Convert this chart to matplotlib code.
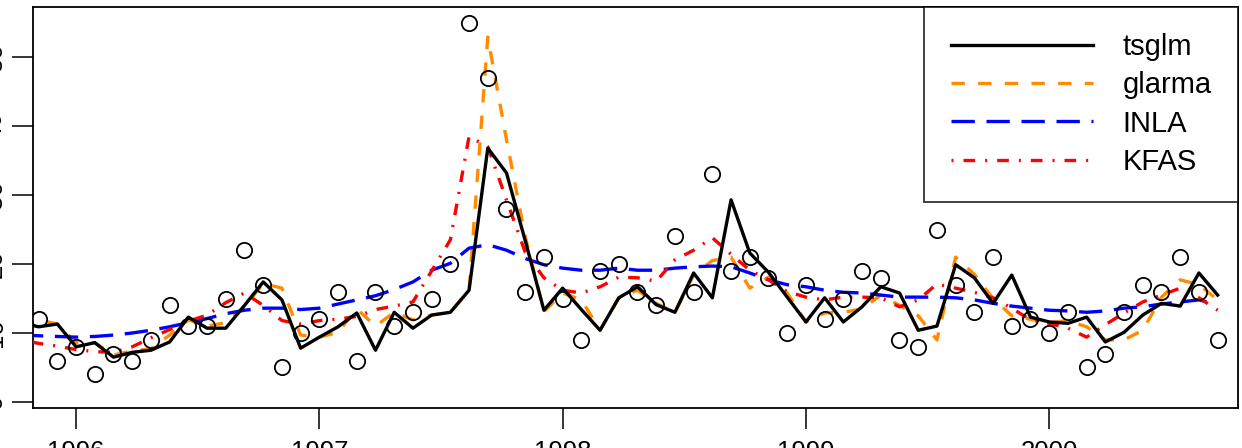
import numpy as np
import matplotlib
matplotlib.use("Agg")
import matplotlib.pyplot as plt

plt.rcParams["font.family"] = ["Liberation Sans", "DejaVu Sans"]

# 4-weekly counts (13 per year), first value at 1995 + 10/13
start = 1995 + 10 / 13
counts = [11, 12, 6, 8, 4, 7, 6, 9, 14, 11, 11, 15, 22, 17, 5, 10, 12, 16, 6, 16,
          11, 13, 15, 20, 55, 47, 28, 16, 21, 15, 9, 19, 20, 16, 14, 24, 16, 33, 19,
          21, 18, 10, 17, 12, 15, 19, 18, 9, 8, 25, 17, 13, 21, 11, 12, 10, 13, 5,
          7, 13, 17, 16, 21, 16, 9]
tsglm = [11.5, 10.9, 11.3, 8.0, 8.6, 6.5, 7.2, 7.5, 8.7, 12.3, 10.7, 10.7, 14.0,
         17.4, 14.8, 7.8, 9.4, 10.9, 12.9, 7.5, 13.0, 10.7, 12.6, 13.0, 16.2, 36.8,
         33.2, 23.4, 13.3, 16.5, 13.4, 10.4, 15.1, 16.7, 14.1, 13.0, 18.7, 15.1,
         29.3, 21.6, 18.8, 15.2, 11.6, 15.1, 11.6, 13.8, 16.7, 15.8, 10.4, 11.0,
         19.9, 18.0, 14.3, 18.4, 12.3, 11.6, 11.4, 12.3, 8.7, 10.1, 12.6, 14.3,
         13.9, 18.7, 15.5]
glarma = [12.2, 11.9, 11.3, 8.6, 8.6, 6.8, 7.4, 7.7, 9.7, 11.9, 11.0, 11.5, 13.8,
          17.2, 16.5, 9.7, 9.4, 10.1, 13.5, 11.0, 13.0, 11.9, 12.6, 13.0, 16.2,
          52.9, 38.0, 24.0, 13.1, 15.8, 14.8, 10.4, 15.1, 16.2, 14.3, 13.0, 18.4,
          20.5, 21.0, 16.5, 18.1, 15.8, 11.6, 12.9, 13.0, 13.5, 15.5, 14.0, 12.5,
          9.0, 21.0, 18.5, 15.0, 12.5, 12.0, 11.5, 11.8, 10.9, 9.0, 9.0, 10.4,
          15.2, 17.7, 17.0, 14.8]
inla = [9.7, 9.6, 9.5, 9.4, 9.5, 9.7, 10.0, 10.4, 10.9, 11.5, 12.1, 12.8, 13.3,
        13.6, 13.6, 13.4, 13.6, 14.2, 14.8, 15.4, 16.3, 17.4, 19.1, 20.1, 22.3,
        22.8, 22.0, 20.8, 19.9, 19.4, 19.1, 19.1, 19.4, 19.1, 19.1, 19.4, 19.6,
        19.7, 19.6, 18.7, 17.7, 17.0, 16.7, 16.2, 15.9, 15.8, 15.5, 15.2, 15.2,
        15.2, 15.1, 14.8, 14.3, 13.9, 13.6, 13.3, 13.2, 13.0, 13.2, 13.6, 13.8,
        14.2, 14.5, 14.8, 14.1]
kfas = [9.0, 8.5, 8.1, 7.6, 7.3, 7.2, 8.0, 9.3, 10.5, 11.7, 12.6, 14.4, 15.8,
        14.0, 11.8, 11.3, 11.8, 12.0, 12.4, 13.4, 13.9, 14.5, 19.0, 23.5, 38.5,
        37.0, 29.3, 21.7, 18.0, 16.2, 15.8, 16.7, 18.1, 18.0, 17.5, 20.6, 22.0,
        23.8, 21.4, 19.1, 17.7, 16.0, 15.2, 14.8, 15.2, 15.2, 15.1, 13.8, 14.8,
        17.1, 16.5, 15.9, 15.1, 13.6, 11.9, 11.4, 10.7, 9.4, 11.2, 12.9, 14.5,
        15.5, 16.5, 15.1, 13.3]

t = start + np.arange(len(counts)) / 13

fig = plt.figure(figsize=(12.42, 4.48), dpi=100)
ax = fig.add_axes([33 / 1242, 40 / 448, 1205 / 1242, 401 / 448])

ax.plot(t, counts, "o", mfc="none", mec="black", ms=11, mew=1.3, zorder=5)
ax.plot(t, tsglm, color="black", lw=2.4, label="tsglm", zorder=4)
ax.plot(t, glarma, color="#FF8C00", lw=2.4, dashes=(4, 4), label="glarma", zorder=3)
ax.plot(t, inla, color="#0000FF", lw=2.4, dashes=(7, 3.5), label="INLA", zorder=3)
ax.plot(t, kfas, color="#FF0000", lw=2.4, dashes=(0.6, 3, 3.5, 3), label="KFAS", zorder=3)

ax.set_xlim(1995.823, 2000.776)
ax.set_ylim(-0.87, 57.25)
ax.set_xticks([1996, 1997, 1998, 1999, 2000])
ax.set_yticks([0, 10, 20, 30, 40, 50])
ax.tick_params(axis="both", length=15, width=1.1, labelsize=18.5, pad=8)
ax.tick_params(axis="y", labelrotation=90, pad=4)
for lab in ax.get_yticklabels():
    lab.set_va("center")
for s in ax.spines.values():
    s.set_linewidth(1.3)

leg = ax.legend(loc="upper right", fontsize=21, frameon=True, fancybox=False,
                edgecolor="black", borderaxespad=0, handlelength=4.9,
                handletextpad=1.0, labelspacing=0.35, borderpad=0.9)
leg.get_frame().set_linewidth(1.3)

fig.savefig("out.png", dpi=100)
